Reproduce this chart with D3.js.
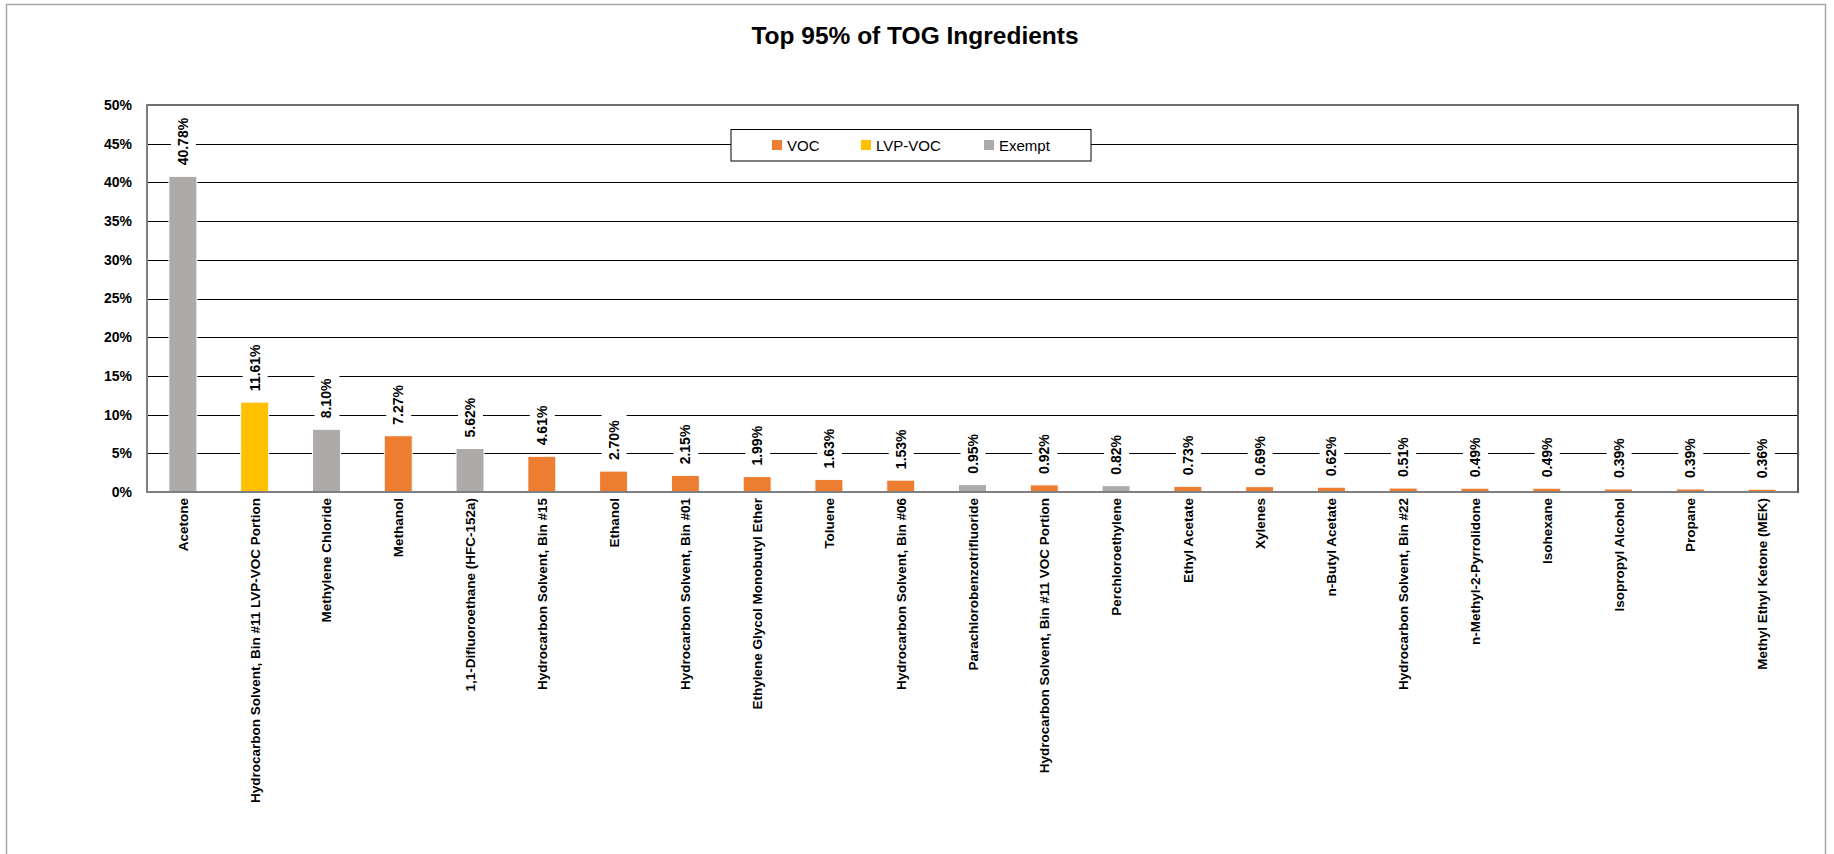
<!DOCTYPE html>
<html><head><meta charset="utf-8">
<script src="https://cdn.jsdelivr.net/npm/d3@7/dist/d3.min.js"></script>
<style>body{margin:0;background:#fff;} svg{display:block;font-family:"Liberation Sans",Arial,sans-serif;}</style>
</head><body>
<svg id="c" width="1834" height="854"></svg>
<script>
const categories = ["Acetone","Hydrocarbon Solvent, Bin #11 LVP-VOC Portion","Methylene Chloride","Methanol","1,1-Difluoroethane (HFC-152a)","Hydrocarbon Solvent, Bin #15","Ethanol","Hydrocarbon Solvent, Bin #01","Ethylene Glycol Monobutyl Ether","Toluene","Hydrocarbon Solvent, Bin #06","Parachlorobenzotrifluoride","Hydrocarbon Solvent, Bin #11 VOC Portion","Perchloroethylene","Ethyl Acetate","Xylenes","n-Butyl Acetate","Hydrocarbon Solvent, Bin #22","n-Methyl-2-Pyrrolidone","Isohexane","Isopropyl Alcohol","Propane","Methyl Ethyl Ketone (MEK)"];
const values = [40.78,11.61,8.10,7.27,5.62,4.61,2.70,2.15,1.99,1.63,1.53,0.95,0.92,0.82,0.73,0.69,0.62,0.51,0.49,0.49,0.39,0.39,0.36];
const types = ["Exempt","LVP-VOC","Exempt","VOC","Exempt","VOC","VOC","VOC","VOC","VOC","VOC","Exempt","VOC","Exempt","VOC","VOC","VOC","VOC","VOC","VOC","VOC","VOC","VOC"];
const seriesNames = ["VOC","LVP-VOC","Exempt"];
const seriesColors = ["#ED7D31","#FFC000","#AEAAAA"];
const yTicks = [0,5,10,15,20,25,30,35,40,45,50];
const title = "Top 95% of TOG Ingredients";

const svg = d3.select("#c");
const L = 147, R = 1798, T = 105, B = 492;
const color = d3.scaleOrdinal().domain(seriesNames).range(seriesColors);
const x = d3.scaleBand().domain(categories).range([L, R]).paddingInner(0.61).paddingOuter(0.305);
const y = d3.scaleLinear().domain([0, 50]).range([B, T]);

// outer chart border
svg.append("rect").attr("x", 6.5).attr("y", 4.5).attr("width", 1819).attr("height", 900)
  .attr("fill", "#fff").attr("stroke", "#a6a6a6").attr("stroke-width", 1.5);

svg.append("text").attr("x", 915).attr("y", 44).attr("text-anchor", "middle")
  .attr("font-size", 24.5).attr("font-weight", "bold").attr("fill", "#000").text(title);

// gridlines
svg.append("g").selectAll("line").data(yTicks.filter(d => d > 0 && d < 50)).join("line")
  .attr("x1", L).attr("x2", R).attr("y1", d => Math.round(y(d)) + 0.5).attr("y2", d => Math.round(y(d)) + 0.5)
  .attr("stroke", "#000").attr("stroke-width", 1);

// plot border
svg.append("rect").attr("x", L).attr("y", T).attr("width", R - L).attr("height", B - T)
  .attr("fill", "none").attr("stroke", "#404040").attr("stroke-width", 1.5);

// bars
svg.append("g").selectAll("rect").data(values).join("rect")
  .attr("x", (d, i) => x(categories[i])).attr("width", x.bandwidth())
  .attr("y", d => y(d)).attr("height", d => B - y(d))
  .attr("fill", (d, i) => color(types[i])).attr("stroke", "#fff").attr("stroke-width", 1);

// axes
const yAxis = svg.append("g").attr("transform", `translate(${L},0)`)
  .call(d3.axisLeft(y).tickValues(yTicks).tickSize(0).tickPadding(15).tickFormat(d => d + "%"));
yAxis.select(".domain").remove();
yAxis.selectAll("text").attr("font-size", 14).attr("font-weight", "bold").attr("fill", "#000")
  .attr("font-family", "Liberation Sans, Arial, sans-serif");

const xAxis = svg.append("g").attr("transform", `translate(0,${B})`)
  .call(d3.axisBottom(x).tickSize(0).tickPadding(0));
xAxis.select(".domain").remove();
xAxis.selectAll("text").attr("font-size", 13.5).attr("font-weight", "bold").attr("fill", "#000")
  .attr("font-family", "Liberation Sans, Arial, sans-serif")
  .attr("text-anchor", "end").attr("dy", null)
  .attr("transform", "translate(5,6) rotate(-90)");

svg.append("line").attr("x1", L).attr("x2", L).attr("y1", T - 1).attr("y2", B + 1).attr("stroke", "#7f7f7f").attr("stroke-width", 2);
svg.append("line").attr("x1", L - 1).attr("x2", R + 1).attr("y1", B).attr("y2", B).attr("stroke", "#7f7f7f").attr("stroke-width", 2);
svg.append("line").attr("x1", R).attr("x2", R).attr("y1", T - 1).attr("y2", B + 1).attr("stroke", "#595959").attr("stroke-width", 2);

// data labels
const lab = svg.append("g").selectAll("g").data(values).join("g")
  .attr("transform", (d, i) => `translate(${x(categories[i]) + x.bandwidth() / 2 + 5},${y(d) - 11}) rotate(-90)`);
lab.each(function(d) {
  const g = d3.select(this);
  const t = g.append("text").attr("font-size", 14).attr("font-weight", "bold").attr("fill", "#000")
    .text(d.toFixed(2) + "%");
  const w = t.node().getComputedTextLength();
  g.insert("rect", "text").attr("x", -6).attr("y", -17).attr("width", w + 12).attr("height", 25).attr("fill", "#fff");
});

// legend
const lg = svg.append("g");
lg.append("rect").attr("x", 731).attr("y", 129.5).attr("width", 360).attr("height", 31.5)
  .attr("fill", "#fff").attr("stroke", "#000").attr("stroke-width", 1);
const legX = [772, 861, 984];
const li = lg.selectAll("g").data(seriesNames).join("g")
  .attr("transform", (d, i) => `translate(${legX[i]},145)`);
li.append("rect").attr("x", 0).attr("y", -5).attr("width", 10).attr("height", 10).attr("fill", d => color(d));
li.append("text").attr("x", 15).attr("y", 5.5).attr("font-size", 15).attr("fill", "#000").text(d => d);
</script>
</body></html>
